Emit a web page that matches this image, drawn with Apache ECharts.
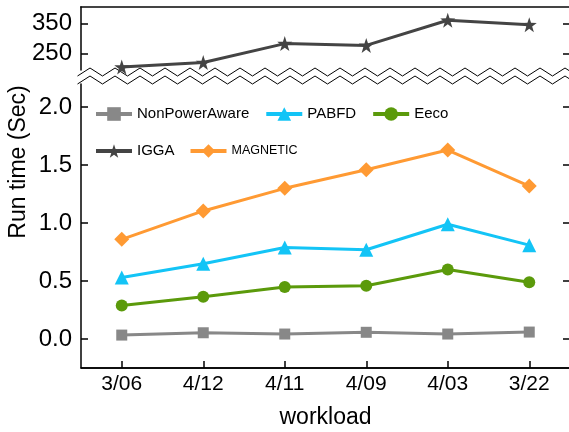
<!DOCTYPE html>
<html>
<head>
<meta charset="utf-8">
<script src="https://cdn.jsdelivr.net/npm/echarts@6.0.0/dist/echarts.min.js"></script>
<style>html,body{margin:0;padding:0;background:#fff;}#c{width:569px;height:432px;}</style>
</head>
<body>
<div id="c"></div>
<script>
const categories = ['3/06', '4/12', '4/11', '4/09', '4/03', '3/22'];
const nonPowerAware = [0.034, 0.054, 0.043, 0.058, 0.043, 0.06];
const pabfd = [0.53, 0.65, 0.79, 0.77, 0.99, 0.81];
const eeco = [0.29, 0.365, 0.448, 0.46, 0.60, 0.49];
const igga = [205, 220, 283, 277, 361, 346];
const magnetic = [0.86, 1.105, 1.30, 1.46, 1.63, 1.32];
const topTicks = [250, 350];
const bottomTicks = [0, 0.5, 1.0, 1.5, 2.0];

const FONT = 'Liberation Sans, Arial, sans-serif';
const chart = echarts.init(document.getElementById('c'), null, {renderer: 'canvas'});

const G1 = {left: 81, top: 84, width: 489, height: 284};

function zigzag(yPeak, yValley, x0, x1, period) {
  const pts = [];
  let k = 0;
  for (let x = x0; x <= x1 + period; x += period / 2, k++) {
    pts.push([x, k % 2 === 0 ? yValley : yPeak]);
  }
  return pts;
}
const upper = zigzag(68, 76, 77.5, 570, 25);
const lower = zigzag(76, 84, 77.5, 570, 25);
const fillPts = upper.concat(lower.slice().reverse());

const lineW = 3;
function mk(name, data, color, symbol, size, xi, yi) {
  return {
    name, type: 'line', data, xAxisIndex: xi, yAxisIndex: yi,
    symbol, symbolSize: size, showSymbol: true,
    lineStyle: {color, width: lineW}, itemStyle: {color},
    emphasis: {disabled: true}, animation: false, z: 3
  };
}

chart.setOption({
  animation: false,
  backgroundColor: '#fff',
  grid: [
    {left: 81, top: 7, width: 489, height: 63, containLabel: false, outerBoundsMode: 'none'},
    Object.assign({containLabel: false, outerBoundsMode: 'none'}, G1)
  ],
  xAxis: [
    {
      type: 'category', data: categories, boundaryGap: true,
      gridIndex: 0, position: 'top',
      axisLine: {show: true, onZero: false, lineStyle: {color: '#444', width: 2}},
      axisTick: {show: false}, axisLabel: {show: false}
    },
    {
      type: 'category', data: categories, boundaryGap: true,
      gridIndex: 1, position: 'bottom', z: 10,
      axisLine: {show: true, onZero: false, lineStyle: {color: '#000000', width: 1.5}},
      axisTick: {show: true, inside: true, length: 7, alignWithLabel: true, lineStyle: {color: '#000000', width: 1.5}},
      axisLabel: {color: '#000', fontSize: 21, fontFamily: FONT, margin: 6},
      name: 'workload', nameLocation: 'middle', nameGap: 38,
      nameTextStyle: {color: '#000', fontSize: 23, fontFamily: FONT}
    }
  ],
  yAxis: [
    {
      type: 'value', gridIndex: 0, min: 195, max: 405, z: 10,
      splitLine: {show: false},
      axisLine: {show: true, onZero: false, lineStyle: {color: '#000', width: 1.5}},
      axisTick: {show: true, inside: true, length: 7, customValues: topTicks, lineStyle: {color: '#000', width: 1.5}},
      axisLabel: {color: '#000', fontSize: 24, fontFamily: FONT, margin: 9, customValues: topTicks}
    },
    {
      type: 'value', gridIndex: 1, min: -0.25, max: 2.2, z: 10,
      splitLine: {show: false},
      axisLine: {show: true, onZero: false, lineStyle: {color: '#000', width: 1.5}},
      axisTick: {show: true, inside: true, length: 7, customValues: bottomTicks, lineStyle: {color: '#000', width: 1.5}},
      axisLabel: {color: '#000', fontSize: 24, fontFamily: FONT, margin: 9, customValues: bottomTicks,
        formatter: v => v.toFixed(1)}
    },
    {
      type: 'value', gridIndex: 0, min: 195, max: 405, position: 'right', z: 10,
      splitLine: {show: false},
      axisLine: {show: true, onZero: false, lineStyle: {color: '#000', width: 1.5}},
      axisTick: {show: true, inside: true, length: 7, customValues: topTicks, lineStyle: {color: '#000', width: 1.5}},
      axisLabel: {show: false}
    },
    {
      type: 'value', gridIndex: 1, min: -0.25, max: 2.2, position: 'right', z: 10,
      splitLine: {show: false},
      axisLine: {show: true, onZero: false, lineStyle: {color: '#000', width: 1.5}},
      axisTick: {show: true, inside: true, length: 7, customValues: bottomTicks, lineStyle: {color: '#000', width: 1.5}},
      axisLabel: {show: false}
    }
  ],
  legend: [
    {
      left: 89, top: 101.5, itemWidth: 36, itemHeight: 17, itemGap: 15,
      lineStyle: {width: 4},
      textStyle: {color: '#000', fontSize: 15, fontFamily: FONT},
      data: ['NonPowerAware', 'PABFD', 'Eeco'], selectedMode: false
    },
    {
      left: 89, top: 138.5, itemWidth: 36, itemHeight: 17, itemGap: 14,
      lineStyle: {width: 4},
      textStyle: {color: '#000', fontSize: 15, fontFamily: FONT},
      data: ['IGGA', {name: 'MAGNETIC', textStyle: {fontSize: 12.5}}], selectedMode: false
    }
  ],
  graphic: [
    {type: 'polygon', shape: {points: fillPts}, style: {fill: '#fff', stroke: null}, z: 1, silent: true},
    {type: 'polyline', shape: {points: upper}, style: {stroke: '#000', lineWidth: 1, fill: null}, z: 1, silent: true},
    {type: 'polyline', shape: {points: lower}, style: {stroke: '#000', lineWidth: 1, fill: null}, z: 1, silent: true},
    {type: 'line', z: 100, silent: true,
      shape: {x1: G1.left, y1: G1.top + G1.height, x2: G1.left + G1.width, y2: G1.top + G1.height},
      style: {stroke: '#000', lineWidth: 1.5}},
    {type: 'text', x: 19, y: 162, rotation: Math.PI / 2, silent: true,
      style: {text: 'Run time (Sec)', fontSize: 23, fontFamily: FONT, fill: '#000', align: 'center', verticalAlign: 'middle'}}
  ],
  series: [
    mk('NonPowerAware', nonPowerAware, '#888888', 'rect', 11, 1, 1),
    mk('PABFD', pabfd, '#13c4f6', 'triangle', 14, 1, 1),
    mk('Eeco', eeco, '#5b9a0b', 'circle', 12, 1, 1),
    mk('IGGA', igga, '#444444', 'path://M50,0 L61.8,35.1 L98.9,35.5 L69.1,57.7 L80.2,93.1 L50,71.6 L19.8,93.1 L30.9,57.7 L1.1,35.5 L38.2,35.1 Z', 15, 0, 0),
    mk('MAGNETIC', magnetic, '#ff9a33', 'diamond', 15, 1, 1)
  ]
});
</script>
</body>
</html>
